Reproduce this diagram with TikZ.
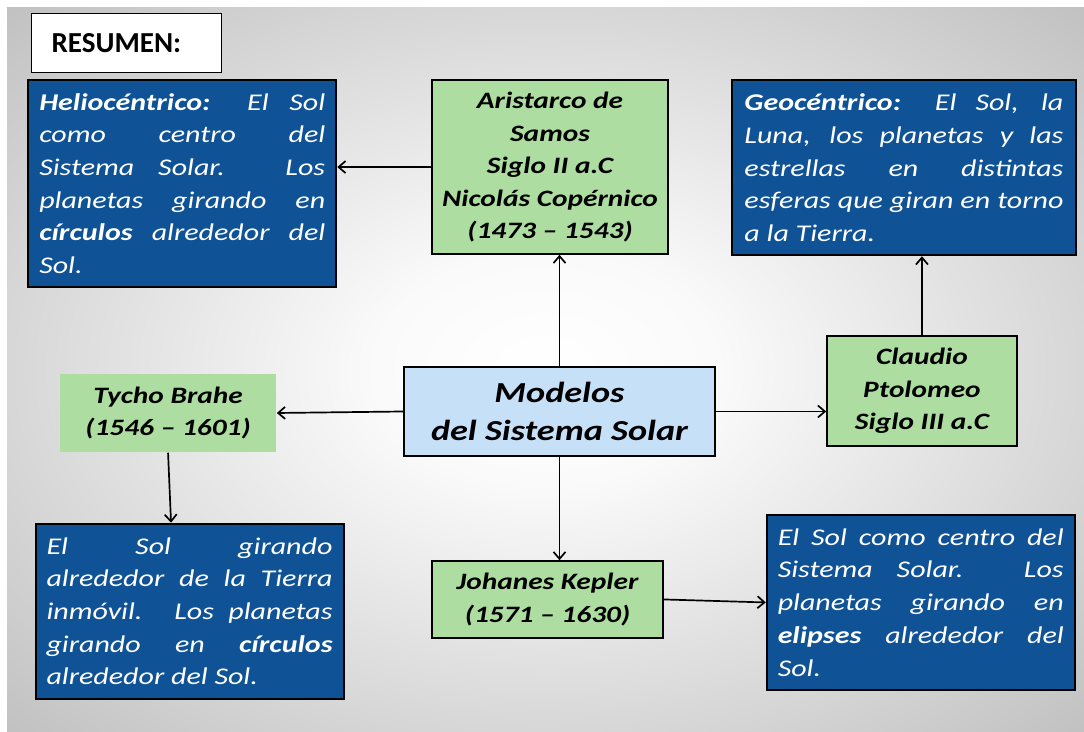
\documentclass[tikz,border=0pt]{standalone}
\usepackage{fontspec}
\setmainfont{Carlito}[FakeStretch=1.25]
\newfontfamily\titlefont{Carlito}
\usetikzlibrary{shapes,arrows.meta,calc,positioning}

\definecolor{descblue}{RGB}{15,82,150}
\definecolor{whogreen}{RGB}{173,221,160}
\definecolor{mainblue}{RGB}{198,224,248}
\pgfdeclareradialshading{bgshade}{\pgfpoint{0bp}{0bp}}{%
  color(0bp)=(white); color(8bp)=(white!98!black);
  color(50bp)=(black!36); color(71bp)=(black!46)}

\begin{document}
\begin{tikzpicture}[%
      x=1pt,y=1pt,
      >={Straight Barb[length=7pt,width=12pt]}, % open arrow heads
      line width=1.7pt
      ]
  \tikzset{
   desc/.style={draw,line width=2pt,fill=descblue,text=white,align=justify,
     text width=286pt,minimum height=175pt,inner xsep=11pt,
     font=\fontsize{24}{32.7}\selectfont\itshape},
   who/.style={draw,line width=1.5pt,fill=whogreen,align=center,
     font=\fontsize{23.5}{32.5}\selectfont\bfseries\itshape},
   topic/.style={draw,line width=2.4pt,fill=mainblue,align=center,
     minimum width=311pt,minimum height=89pt,
     font=\fontsize{29}{38}\selectfont\bfseries\itshape},
   tag/.style={draw,line width=0.8pt,fill=white,text width=150pt,inner xsep=20pt,
     minimum height=59pt,align=left,
     font=\titlefont\fontsize{29}{34}\selectfont\bfseries}}

 % background
 \useasboundingbox (0,0) rectangle (1084,731);
 \fill[white] (0,0) rectangle (1084,731);
 \shade[shading=bgshade] (7,0) rectangle (1084,723);

 \node [topic] (modelos) at (559.5,319.5) {Modelos\\del Sistema Solar};

 \node [who,minimum width=236pt,minimum height=174pt,above=111pt of modelos,xshift=-9.5pt] (arist)
   {Aristarco de\\Samos\\Siglo II a.C\\Nicolás Copérnico\\(1473 – 1543)};
 \node [desc,minimum height=207pt,left=94pt of arist,yshift=-16.5pt] (helio)
   {\textbf{Heliocéntrico:} El Sol\linebreak como centro del\linebreak Sistema Solar. Los\linebreak
    planetas girando en\linebreak \textbf{círculos} alrededor del\linebreak Sol.};
 \node [tag,anchor=south west,above right=6pt and 4pt of helio.north west] (resumen) {RESUMEN:};

 \node [who,minimum width=190pt,minimum height=110pt,right=110pt of modelos,yshift=20.5pt] (claudio)
   {Claudio\\Ptolomeo\\Siglo III a.C};
 \node [desc,text width=319pt,inner xsep=12.5pt,above=79pt of claudio,xshift=-18pt] (geo)
   {\textbf{Geocéntrico:} El Sol, la\linebreak Luna, los planetas y las\linebreak estrellas en distintas\linebreak
    esferas que giran en torno\linebreak a la Tierra.};

 \node [who,draw=none,minimum width=216pt,minimum height=78pt,left=126pt of modelos,yshift=-1.5pt] (tycho)
   {Tycho Brahe\\(1546 – 1601)};
 \node [desc,below=70pt of tycho,xshift=21.5pt] (tychodesc)
   {El Sol girando\linebreak alrededor de la Tierra\linebreak inmóvil. Los planetas\linebreak
    girando en \textbf{círculos}\linebreak alrededor del Sol.};

 \node [who,minimum width=231pt,minimum height=77pt,below=103pt of modelos,xshift=-12pt] (kepler)
   {Johanes Kepler\\(1571 – 1630)};
 \node [desc,right=102pt of kepler,yshift=-3pt] (kepdesc)
   {El Sol como centro del\linebreak Sistema Solar. Los\linebreak planetas girando en\linebreak
    \textbf{elipses} alrededor del\linebreak Sol.};

 \draw[->] (modelos.north) -- (modelos.north |- arist.south);
 \draw[->] (arist.west) -- (arist.west -| helio.east);
 \draw[->] (modelos.east) -- (modelos.east -| claudio.west);
 \draw[->] (claudio.north) -- (claudio.north |- geo.south);
 \draw[->] (modelos.west) -- (tycho.east);
 \draw[->] (tycho.south) -- ([xshift=3pt]tycho.south |- tychodesc.north);
 \draw[->] (modelos.south) -- (modelos.south |- kepler.north);
 \draw[->] (kepler.east) -- (kepdesc.west);
\end{tikzpicture}
\end{document}
